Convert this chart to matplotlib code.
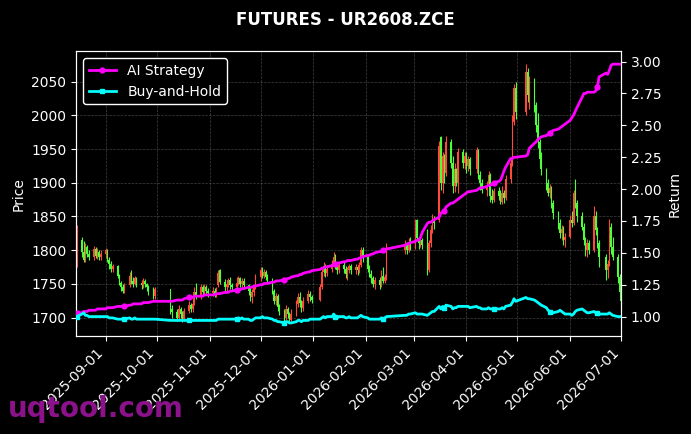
import matplotlib
matplotlib.use("Agg")
import matplotlib.pyplot as plt
import matplotlib.dates as mdates
import pandas as pd

# 交易日 (剔除周末和国内节假日)
start_day = "2025-08-15"
end_day = "2026-07-01"
holidays = ["2025-10-01", "2025-10-02", "2025-10-03", "2025-10-06", "2025-10-07", "2025-10-08",
            "2026-01-01", "2026-01-02",
            "2026-02-16", "2026-02-17", "2026-02-18", "2026-02-19", "2026-02-20", "2026-02-23",
            "2026-04-06", "2026-05-01", "2026-05-04", "2026-05-05", "2026-06-19"]

# 日K数据 (按月分行)
opens = [
    1790, 1815, 1798, 1786, 1805, 1795, 1790, 1802, 1792, 1798, 1790,
    1795, 1800, 1786, 1780, 1772, 1776, 1762, 1752, 1745, 1740, 1748, 1762, 1755, 1750, 1758, 1752, 1748, 1754, 1750, 1745, 1738, 1732,
    1742, 1712, 1708, 1700, 1712, 1705, 1698, 1710, 1718, 1712, 1720, 1738, 1732, 1745, 1738, 1746, 1740,
    1736, 1740, 1735, 1748, 1771, 1753, 1745, 1750, 1756, 1748, 1745, 1752, 1758, 1750, 1755, 1748, 1740, 1730, 1738, 1745,
    1760, 1770, 1762, 1768, 1760, 1757, 1740, 1725, 1732, 1715, 1708, 1700, 1712, 1705, 1697, 1706, 1720, 1730, 1722, 1714, 1725, 1735, 1730,
    1726, 1745, 1768, 1776, 1766, 1772, 1780, 1790, 1778, 1770, 1778, 1772, 1765, 1770, 1776, 1770, 1775, 1770, 1778, 1800,
    1790, 1772, 1765, 1758, 1750, 1756, 1748, 1762, 1755, 1760, 1800, 1808, 1800, 1812,
    1806, 1845, 1818, 1810, 1815, 1808, 1770, 1810, 1830, 1845, 1845, 1968, 1900, 1940, 1915, 1960, 1930, 1895, 1920, 1900, 1945, 1930,
    1940, 1925, 1935, 1920, 1948, 1912, 1900, 1890, 1895, 1912, 1880, 1875, 1888, 1880, 1872, 1885, 1878, 1905, 1930, 1990, 2040,
    2005, 2065, 2030, 2050, 2015, 1985, 1960, 1935, 1920, 1900, 1885, 1892, 1870, 1855, 1840, 1825, 1832, 1815,
    1820, 1845, 1840, 1885, 1870, 1850, 1835, 1815, 1800, 1810, 1800, 1850, 1830, 1810, 1790, 1770, 1780, 1835, 1805, 1790, 1760,
    1738,
]
closes = [
    1815, 1798, 1786, 1805, 1795, 1790, 1802, 1792, 1798, 1790, 1795,
    1800, 1786, 1780, 1772, 1776, 1762, 1752, 1745, 1740, 1748, 1762, 1755, 1750, 1758, 1752, 1748, 1754, 1750, 1745, 1738, 1732, 1742,
    1712, 1708, 1700, 1712, 1705, 1698, 1710, 1718, 1712, 1720, 1738, 1732, 1745, 1738, 1746, 1740, 1736,
    1740, 1735, 1742, 1766, 1753, 1745, 1750, 1756, 1748, 1745, 1752, 1758, 1750, 1755, 1748, 1740, 1730, 1738, 1745, 1760,
    1770, 1762, 1768, 1760, 1757, 1740, 1725, 1732, 1715, 1708, 1700, 1712, 1705, 1697, 1706, 1720, 1730, 1722, 1714, 1725, 1735, 1730, 1726,
    1745, 1768, 1776, 1766, 1772, 1780, 1790, 1778, 1770, 1778, 1772, 1765, 1770, 1776, 1770, 1775, 1770, 1778, 1800, 1790,
    1772, 1765, 1758, 1750, 1756, 1748, 1762, 1755, 1760, 1800, 1808, 1800, 1812, 1805,
    1838, 1818, 1810, 1815, 1808, 1770, 1810, 1830, 1845, 1840, 1955, 1900, 1940, 1915, 1960, 1930, 1895, 1920, 1900, 1945, 1930, 1940,
    1925, 1935, 1920, 1948, 1912, 1900, 1890, 1895, 1912, 1880, 1875, 1888, 1880, 1872, 1885, 1878, 1905, 1930, 1990, 2040, 2005,
    2065, 2030, 2050, 2015, 1985, 1960, 1935, 1920, 1900, 1885, 1892, 1870, 1855, 1840, 1825, 1832, 1815, 1820,
    1845, 1840, 1885, 1870, 1850, 1835, 1815, 1800, 1810, 1800, 1850, 1830, 1810, 1790, 1770, 1780, 1835, 1805, 1790, 1760, 1738,
    1725,
]
highs = [
    1838, 1820, 1813, 1810, 1808, 1800, 1806, 1805, 1803, 1801, 1800,
    1803, 1802, 1790, 1784, 1780, 1778, 1765, 1755, 1750, 1752, 1768, 1771, 1760, 1762, 1760, 1756, 1758, 1757, 1752, 1748, 1745, 1745,
    1742, 1718, 1712, 1718, 1716, 1710, 1714, 1725, 1722, 1725, 1745, 1752, 1750, 1748, 1750, 1748, 1744,
    1745, 1744, 1746, 1770, 1772, 1757, 1755, 1758, 1760, 1752, 1760, 1762, 1760, 1758, 1758, 1750, 1745, 1742, 1748, 1765,
    1775, 1775, 1772, 1771, 1765, 1758, 1742, 1736, 1735, 1720, 1712, 1718, 1716, 1708, 1712, 1726, 1736, 1738, 1726, 1730, 1741, 1740, 1734,
    1750, 1772, 1783, 1780, 1778, 1786, 1798, 1795, 1782, 1782, 1782, 1776, 1775, 1780, 1779, 1780, 1778, 1782, 1805, 1804,
    1792, 1778, 1770, 1762, 1760, 1760, 1770, 1775, 1765, 1810, 1815, 1812, 1818, 1820,
    1846, 1846, 1820, 1820, 1818, 1832, 1815, 1838, 1853, 1850, 1962, 1970, 1945, 1943, 1970, 1965, 1940, 1930, 1922, 1951, 1950, 1946,
    1945, 1940, 1938, 1953, 1950, 1918, 1905, 1902, 1918, 1915, 1891, 1892, 1894, 1890, 1895, 1890, 1912, 1937, 2000, 2046, 2049,
    2076, 2070, 2058, 2056, 2020, 2003, 1965, 1945, 1922, 1905, 1898, 1895, 1875, 1858, 1846, 1838, 1836, 1826,
    1852, 1858, 1890, 1906, 1875, 1856, 1840, 1820, 1816, 1815, 1865, 1858, 1835, 1815, 1795, 1786, 1846, 1840, 1820, 1795, 1765,
    1757,
]
lows = [
    1775, 1790, 1783, 1782, 1790, 1786, 1786, 1788, 1787, 1785, 1786,
    1788, 1782, 1772, 1768, 1768, 1758, 1748, 1740, 1736, 1737, 1745, 1750, 1746, 1748, 1746, 1742, 1744, 1745, 1740, 1733, 1728, 1727,
    1705, 1700, 1695, 1698, 1700, 1693, 1695, 1707, 1708, 1709, 1718, 1728, 1728, 1732, 1734, 1735, 1730,
    1732, 1730, 1730, 1745, 1750, 1740, 1740, 1745, 1742, 1740, 1742, 1748, 1745, 1745, 1742, 1733, 1725, 1722, 1732, 1743,
    1755, 1758, 1758, 1756, 1752, 1735, 1720, 1718, 1710, 1704, 1695, 1697, 1700, 1692, 1693, 1703, 1716, 1716, 1708, 1710, 1722, 1725, 1722,
    1724, 1742, 1762, 1760, 1762, 1768, 1775, 1772, 1765, 1766, 1766, 1758, 1756, 1766, 1765, 1764, 1763, 1766, 1775, 1782,
    1768, 1760, 1752, 1745, 1742, 1742, 1745, 1752, 1752, 1756, 1795, 1795, 1798, 1800,
    1802, 1813, 1802, 1804, 1802, 1763, 1768, 1805, 1825, 1832, 1842, 1890, 1885, 1900, 1910, 1922, 1885, 1886, 1895, 1885, 1922, 1920,
    1915, 1918, 1912, 1915, 1905, 1890, 1885, 1880, 1890, 1872, 1870, 1872, 1874, 1868, 1868, 1870, 1875, 1900, 1925, 1985, 1995,
    2000, 2020, 2010, 2005, 1975, 1951, 1925, 1912, 1890, 1880, 1878, 1862, 1846, 1832, 1818, 1815, 1808, 1805,
    1818, 1835, 1838, 1862, 1842, 1830, 1808, 1792, 1790, 1795, 1797, 1822, 1803, 1775, 1756, 1758, 1776, 1795, 1785, 1752, 1730,
    1720,
]

# 每日累计收益
ai_strategy = [
    1.03, 1.03, 1.04, 1.04, 1.04, 1.05, 1.05, 1.05, 1.06, 1.06, 1.06,
    1.06, 1.07, 1.07, 1.07, 1.07, 1.08, 1.08, 1.08, 1.08, 1.08, 1.09, 1.09, 1.10, 1.10, 1.10, 1.10, 1.11, 1.11, 1.11, 1.11, 1.12, 1.12,
    1.12, 1.12, 1.13, 1.13, 1.13, 1.13, 1.14, 1.15, 1.15, 1.15, 1.16, 1.16, 1.16, 1.16, 1.17, 1.17, 1.17,
    1.17, 1.17, 1.18, 1.18, 1.18, 1.19, 1.19, 1.19, 1.20, 1.20, 1.21, 1.21, 1.21, 1.22, 1.22, 1.23, 1.23, 1.23, 1.24, 1.24,
    1.25, 1.25, 1.26, 1.26, 1.26, 1.27, 1.27, 1.28, 1.28, 1.28, 1.29, 1.29, 1.30, 1.30, 1.31, 1.32, 1.32, 1.33, 1.33, 1.34, 1.35, 1.35, 1.36,
    1.37, 1.38, 1.38, 1.39, 1.39, 1.40, 1.41, 1.41, 1.42, 1.42, 1.43, 1.43, 1.44, 1.44, 1.44, 1.45, 1.45, 1.46, 1.46, 1.47,
    1.48, 1.48, 1.49, 1.49, 1.50, 1.51, 1.51, 1.52, 1.52, 1.53, 1.56, 1.57, 1.57, 1.58,
    1.59, 1.60, 1.60, 1.62, 1.66, 1.73, 1.74, 1.74, 1.75, 1.76, 1.78, 1.81, 1.82, 1.83, 1.86, 1.89, 1.89, 1.90, 1.91, 1.92, 1.95, 1.96,
    1.97, 1.98, 1.98, 1.99, 2.00, 2.01, 2.01, 2.02, 2.03, 2.03, 2.04, 2.05, 2.06, 2.07, 2.10, 2.14, 2.17, 2.24, 2.24, 2.25, 2.25,
    2.26, 2.27, 2.32, 2.36, 2.37, 2.39, 2.40, 2.41, 2.42, 2.43, 2.44, 2.45, 2.46, 2.47, 2.48, 2.49, 2.50, 2.51,
    2.54, 2.56, 2.58, 2.61, 2.64, 2.72, 2.75, 2.75, 2.76, 2.76, 2.76, 2.77, 2.80, 2.88, 2.91, 2.90, 2.93, 2.97, 2.98, 2.98, 2.98,
    2.98,
]
buy_hold = [
    1.00, 1.02, 1.03, 1.01, 1.01, 1.00, 1.00, 1.00, 1.00, 1.00, 1.00,
    1.00, 1.00, 0.99, 0.99, 0.99, 0.98, 0.98, 0.98, 0.98, 0.98, 0.99, 0.98, 0.98, 0.99, 0.98, 0.98, 0.98, 0.98, 0.98, 0.98, 0.98, 0.98,
    0.97, 0.97, 0.97, 0.97, 0.97, 0.97, 0.97, 0.97, 0.97, 0.97, 0.97, 0.97, 0.97, 0.97, 0.97, 0.97, 0.97,
    0.97, 0.97, 0.97, 0.98, 0.98, 0.98, 0.98, 0.98, 0.98, 0.98, 0.98, 0.99, 0.98, 0.99, 0.98, 0.98, 0.97, 0.97, 0.98, 0.99,
    0.99, 1.00, 0.99, 0.99, 0.99, 0.98, 0.97, 0.97, 0.96, 0.96, 0.95, 0.96, 0.96, 0.95, 0.95, 0.96, 0.97, 0.97, 0.96, 0.97, 0.97, 0.98, 0.98,
    0.98, 0.99, 1.00, 0.99, 1.00, 1.00, 1.02, 1.00, 0.99, 1.00, 1.00, 0.99, 0.99, 1.00, 0.99, 0.99, 0.99, 1.00, 1.01, 1.00,
    0.99, 0.98, 0.98, 0.98, 0.98, 0.98, 0.99, 0.98, 0.99, 1.00, 1.01, 1.01, 1.02, 1.02,
    1.03, 1.02, 1.02, 1.02, 1.02, 1.01, 1.02, 1.03, 1.04, 1.04, 1.08, 1.06, 1.08, 1.07, 1.09, 1.08, 1.06, 1.07, 1.07, 1.08, 1.08, 1.08,
    1.08, 1.08, 1.07, 1.08, 1.07, 1.07, 1.06, 1.06, 1.07, 1.06, 1.06, 1.06, 1.06, 1.06, 1.07, 1.06, 1.08, 1.09, 1.11, 1.14, 1.12,
    1.15, 1.14, 1.14, 1.13, 1.12, 1.11, 1.10, 1.09, 1.07, 1.05, 1.04, 1.03, 1.03, 1.04, 1.05, 1.04, 1.03, 1.02,
    1.02, 1.01, 1.02, 1.04, 1.05, 1.06, 1.05, 1.04, 1.03, 1.03, 1.04, 1.03, 1.03, 1.02, 1.02, 1.02, 1.03, 1.02, 1.01, 1.00, 1.00,
    1.00,
]

days = pd.bdate_range(start_day, end_day)
days = days[~days.isin(pd.to_datetime(holidays))]
df = pd.DataFrame({"open": opens, "high": highs, "low": lows, "close": closes,
                   "ai": ai_strategy, "bh": buy_hold}, index=days)

plt.style.use("dark_background")
fig = plt.figure(figsize=(6.91, 4.34), dpi=100)
ax = fig.add_axes([0.110, 0.226, 0.789, 0.656])

# K线: 红涨绿跌
up = df["close"] >= df["open"]
colors = ["#ff4a3a" if u else "#4cff3a" for u in up]
x = mdates.date2num(df.index.to_pydatetime())
ax.vlines(x, df["low"], df["high"], colors=colors, linewidth=0.8, zorder=2)
body_h = (df["close"] - df["open"]).abs().clip(lower=1)
ax.bar(x, body_h, bottom=df[["open", "close"]].min(axis=1), width=0.9, color=colors, zorder=3)

ax.set_ylabel("Price", color="white")
ax.grid(True, linestyle="--", linewidth=0.5, color="gray", alpha=0.5)
ax.set_xlim(x[0] - 0.5, x[-1])

ax2 = ax.twinx()
ax2.plot(df.index, df["ai"], color="magenta", linewidth=2, marker="o", markersize=3.5,
         markevery=20, label="AI Strategy", zorder=5)
ax2.plot(df.index, df["bh"], color="cyan", linewidth=2, marker="s", markersize=3.5,
         markevery=20, label="Buy-and-Hold", zorder=5)
ax2.set_ylabel("Return", color="white")

ax.xaxis.set_major_locator(mdates.MonthLocator())
ax.xaxis.set_major_formatter(mdates.DateFormatter("%Y-%m-%d"))
for lbl in ax.get_xticklabels():
    lbl.set_rotation(45)
    lbl.set_ha("right")

for a in (ax, ax2):
    for s in a.spines.values():
        s.set_color("white")

leg = ax2.legend(loc="upper left", facecolor="black", edgecolor="white", fontsize=10)
leg.get_frame().set_alpha(1)

fig.suptitle("FUTURES - UR2608.ZCE", color="white", fontsize=12, fontweight="bold", y=0.975)
fig.text(0.012, 0.04, "uqtool.com", color="#8b128b", fontsize=20, fontweight="bold")

plt.savefig("out.png", dpi=100, facecolor="black")
